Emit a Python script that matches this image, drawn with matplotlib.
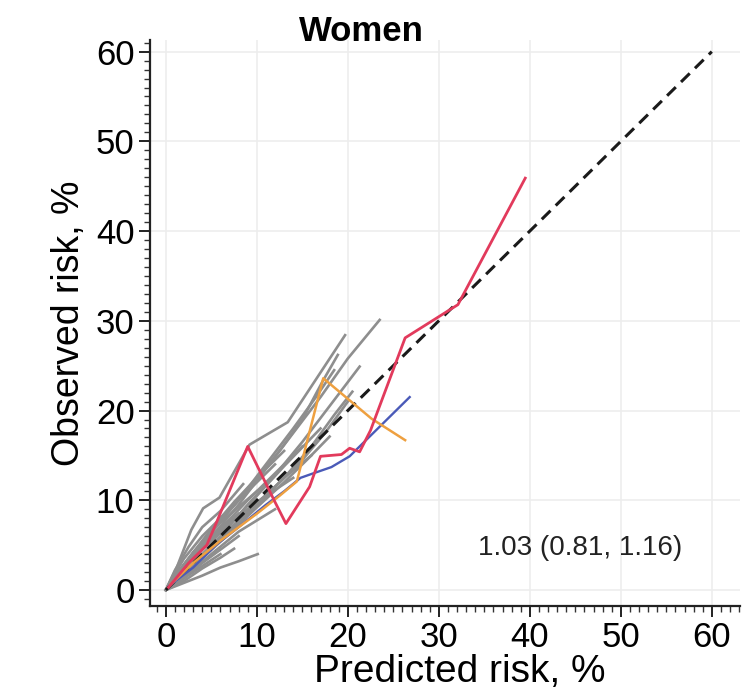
import matplotlib
matplotlib.use("Agg")
import matplotlib.pyplot as plt
from matplotlib.ticker import MultipleLocator

plt.rcParams["font.family"] = ["Liberation Sans", "DejaVu Sans"]

# ── data (predicted %, observed %) ─────────────────────────────────────────────
gray_lines = [
    ([0, 1.2, 2.8, 4.1, 5.9, 9.2, 13.4, 19.7], [0, 2.5, 6.7, 9.1, 10.3, 16.2, 18.7, 28.4]),
    ([0, 1, 3, 5.5, 8, 11, 14, 17, 20, 23.5], [0, 1.3, 3.8, 6.5, 9.5, 13.5, 17.5, 21.5, 25.8, 30.1]),
    ([0, 1, 2.5, 5, 7.5, 10, 12.5, 15, 17.2, 18.9], [0, 1.5, 3.5, 6.8, 9.8, 12.5, 15.5, 19.0, 23.2, 26.2]),
    ([0, 1, 3, 6, 9, 12, 15, 18, 21.3], [0, 1, 3, 6, 9.5, 12.8, 16.5, 20.5, 24.9]),
    ([0, 1.5, 4, 7, 10, 13, 16, 18.5, 20.5], [0, 1.3, 3.8, 6.5, 9.5, 12.5, 16.0, 19.5, 22.1]),
    ([0, 2, 4.5, 7, 10, 13, 15.5, 18], [0, 1.8, 4.0, 6.3, 9.2, 12.0, 14.5, 17.1]),
    ([0, 2, 4, 6, 8, 10.1], [0, 0.8, 1.6, 2.5, 3.2, 4.0]),
    ([0, 1, 3, 5, 8, 11, 14, 16.5, 18.5], [0, 1.5, 4, 6.5, 10, 14, 18, 21.5, 24.5]),
    ([0, 2, 4, 7, 10, 13, 16], [0, 2, 3.8, 6.8, 9.5, 12.5, 15]),
    ([0, 1.5, 4, 7, 10, 14], [0, 1.8, 4.5, 7.5, 9.8, 12.5]),
    ([0, 2, 5, 8, 12], [0, 1.5, 4, 6.5, 9]),
    ([0, 1, 3, 5.5, 8], [0, 1.6, 4, 6.5, 8.5]),
    ([0, 1, 3, 6, 10], [0, 1.5, 4.2, 7.5, 11]),
    ([0, 1, 3, 6, 9, 12, 15], [0, 1.2, 3.5, 6.8, 10, 13, 16]),
    ([0, 1, 2.5, 5, 8, 11, 13], [0, 1.5, 3.5, 6.5, 10, 13.5, 15.5]),
    ([0, 1.5, 3, 4.5, 6], [0, 1, 2, 3, 4]),
    ([0, 2, 4, 6, 8], [0, 1.3, 3, 4.5, 6]),
    ([0, 1, 3, 6, 9, 12, 15, 17.5, 20], [0, 1, 2.8, 5.8, 8.8, 11.5, 14.5, 17.5, 21]),
    ([0, 1.5, 4, 7, 10, 13, 17], [0, 1.5, 4.5, 7.3, 10.5, 13.8, 18]),
    ([0, 1, 2, 4, 6, 9, 12], [0, 1.8, 3.5, 6, 8, 11, 14]),
    ([0, 1, 2.5, 4, 6, 8.5], [0, 2.2, 4.8, 7.0, 8.8, 11.8]),
    ([0, 2, 4, 6, 7.5], [0, 1.0, 2.4, 3.6, 4.6]),
]

blue_x = [0.4, 3, 5.5, 8, 11, 13, 14.8, 16.2, 18.2, 20.2, 22, 26.8]
blue_y = [0.5, 2.5, 5.0, 7.0, 9.5, 11.0, 12.5, 13.0, 13.7, 14.9, 16.7, 21.5]

orange_x = [0.5, 3, 6, 10, 12.5, 14.4, 17.3, 22.6, 26.3]
orange_y = [0.6, 3, 5.5, 8.5, 10.5, 12.1, 23.6, 19.1, 16.7]

red_x = [0.3, 2.5, 4.5, 5.6, 9.0, 12.0, 13.2, 15.8, 17.0, 19.3, 20.2, 21.3, 22.5, 26.3, 32.1, 39.5]
red_y = [0.3, 3.0, 5.0, 7.6, 16.0, 9.8, 7.4, 11.5, 14.9, 15.1, 15.8, 15.4, 17.8, 28.1, 31.8, 45.9]

ref_x = [0, 60]
ref_y = [0, 60]

ticks = [0, 10, 20, 30, 40, 50, 60]
summary_text = "1.03 (0.81, 1.16)"

# ── plot ───────────────────────────────────────────────────────────────────────
fig = plt.figure(figsize=(7.49, 6.89), dpi=100)
ax = fig.add_axes([0.200, 0.1205, 0.788, 0.8215])

for gx, gy in gray_lines:
    ax.plot(gx, gy, color="#8e8e8e", lw=1.9, zorder=2)

ax.plot(ref_x, ref_y, color="#1a1a1a", lw=2.2, ls=(0, (4, 2.4)), zorder=3)
ax.plot(blue_x, blue_y, color="#4a5ab8", lw=1.7, zorder=4)
ax.plot(orange_x, orange_y, color="#eea040", lw=1.8, zorder=4)
ax.plot(red_x, red_y, color="#e23a5c", lw=2.0, zorder=5)

ax.set_xlim(-1.76, 63.1)
ax.set_ylim(-1.78, 61.3)
ax.set_xticks(ticks)
ax.set_yticks(ticks)
ax.xaxis.set_minor_locator(MultipleLocator(1))
ax.yaxis.set_minor_locator(MultipleLocator(1))
ax.tick_params(which="major", length=8, width=1.4, labelsize=25, pad=3, color="#222222")
ax.tick_params(which="minor", length=4.5, width=1.0, color="#333333")

for s in ["top", "right"]:
    ax.spines[s].set_visible(False)
for s in ["left", "bottom"]:
    ax.spines[s].set_linewidth(1.6)
    ax.spines[s].set_color("#222222")

ax.grid(True, which="major", color="#ededed", lw=1.2, zorder=0)
ax.set_axisbelow(True)

ax.set_xlabel("Predicted risk, %", fontsize=28)
ax.xaxis.set_label_coords(0.525, -0.085)
ax.set_ylabel("Observed risk, %", fontsize=27, labelpad=6)
ax.text(45.5, 4.7, summary_text, fontsize=20, ha="center", va="center", color="#222222")

fig.text(0.482, 0.954, "Women", fontsize=25, fontweight="bold", ha="center", va="center")

fig.savefig("out.png", dpi=100)
